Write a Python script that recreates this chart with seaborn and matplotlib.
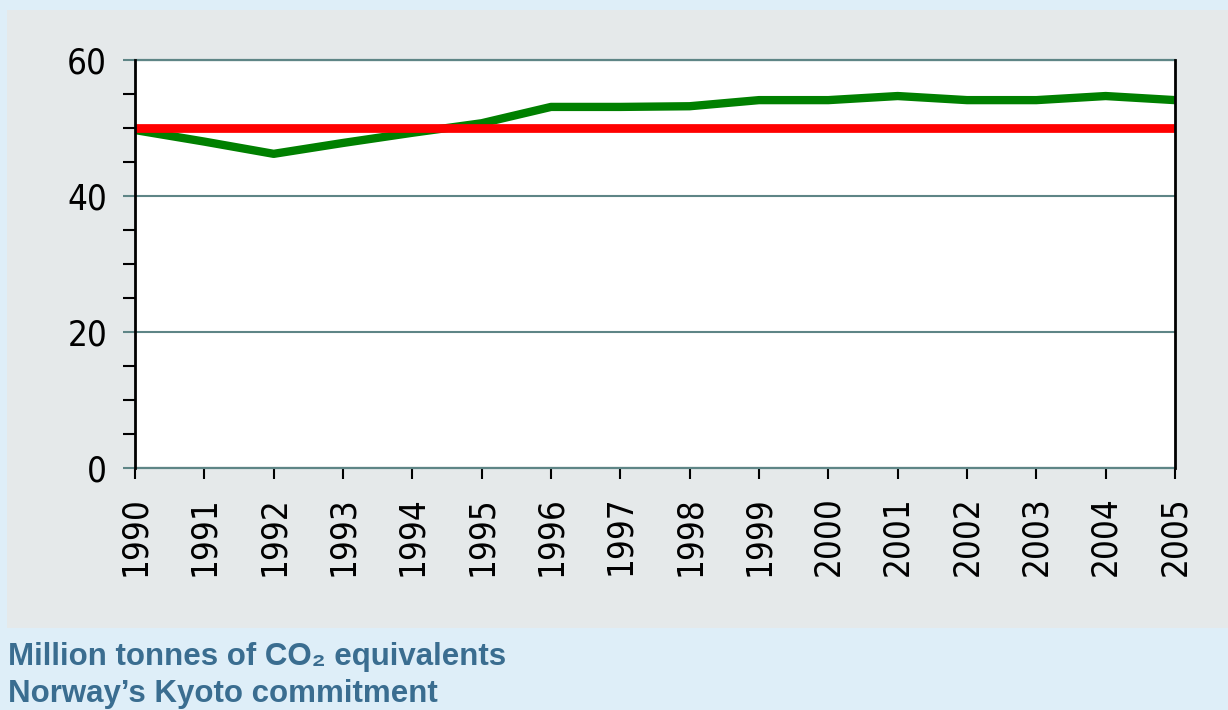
import matplotlib
matplotlib.use("Agg")
import matplotlib.pyplot as plt
from matplotlib.patches import Rectangle
from matplotlib.ticker import MultipleLocator
import seaborn as sns
import pandas as pd

years = [1990, 1991, 1992, 1993, 1994, 1995, 1996, 1997,
         1998, 1999, 2000, 2001, 2002, 2003, 2004, 2005]
emissions = [49.7, 48.0, 46.2, 47.8, 49.3, 50.7, 53.1, 53.1,
             53.2, 54.1, 54.1, 54.7, 54.1, 54.1, 54.7, 54.1]
kyoto = [50, 50, 50, 50, 50, 50, 50, 50,
         50, 50, 50, 50, 50, 50, 50, 50]
y_ticks = [0, 20, 40, 60]

line1 = "Million tonnes of CO\u2082 equivalents"
line2 = "Norway\u2019s Kyoto commitment"

outer_bg = "#DEEEF8"
panel_bg = "#E5E9EA"
teal = "#5E8586"
text_blue = "#3A6D90"

df = pd.DataFrame({"Year": years, "Emissions": emissions, "Kyoto": kyoto})

sns.set_style("white")
plt.rcParams['font.family'] = ['DejaVu Sans']

W, H = 1228, 710
fig = plt.figure(figsize=(W / 100, H / 100), dpi=100)
fig.patch.set_facecolor(outer_bg)

# grey panel behind the chart
fig.patches.append(Rectangle((7 / W, 1 - 628 / H), 1 - 7 / W, (628 - 10) / H,
                             transform=fig.transFigure, facecolor=panel_bg,
                             edgecolor='none', zorder=-10))

ax = fig.add_axes([135 / W, 1 - 468 / H, 1040 / W, 408 / H])
ax.set_zorder(1)
ax.set_facecolor('white')

sns.lineplot(data=df, x="Year", y="Emissions", ax=ax, color="#008000",
             linewidth=6, zorder=3, solid_capstyle='butt')
sns.lineplot(data=df, x="Year", y="Kyoto", ax=ax, color="#FF0000",
             linewidth=6.3, zorder=4, clip_on=False, solid_capstyle='butt')

ax.set_xlim(1990, 2005)
ax.set_ylim(0, 60)
ax.set_xlabel("")
ax.set_ylabel("")

ax.set_xticks(years)
ax.set_xticklabels([str(y) for y in years], rotation=90,
                   fontsize=25, fontstretch='condensed')
ax.set_yticks(y_ticks)
ax.set_yticklabels([str(v) for v in y_ticks], fontsize=25,
                   fontstretch='condensed')
ax.yaxis.set_minor_locator(MultipleLocator(5))

ax.tick_params(axis='x', which='major', direction='out', length=8,
               width=1.5, color='black', labelcolor='black', pad=12,
               bottom=True)
ax.tick_params(axis='y', which='major', direction='out', length=9,
               width=1.5, color=teal, labelcolor='black', pad=11, left=True)
ax.tick_params(axis='y', which='minor', direction='out', length=9,
               width=1.5, color='black', left=True)

ax.grid(axis='y', which='major', color=teal, linewidth=1.5)
ax.set_axisbelow(True)

for side in ['left', 'right']:
    ax.spines[side].set_color('black')
    ax.spines[side].set_linewidth(2)
for side in ['top', 'bottom']:
    ax.spines[side].set_color(teal)
    ax.spines[side].set_linewidth(1.6)
ax.spines['left'].set_zorder(5)
ax.spines['right'].set_zorder(5)

fig.text(8 / W, 1 - 665 / H, line1, fontsize=22.5, fontweight='bold',
         color=text_blue, family=['Liberation Sans', 'DejaVu Sans'],
         ha='left', va='baseline')
fig.text(8 / W, 1 - 702 / H, line2, fontsize=22.5, fontweight='bold',
         color=text_blue, family=['Liberation Sans', 'DejaVu Sans'],
         ha='left', va='baseline')

fig.savefig("out.png", dpi=100, facecolor=outer_bg)
